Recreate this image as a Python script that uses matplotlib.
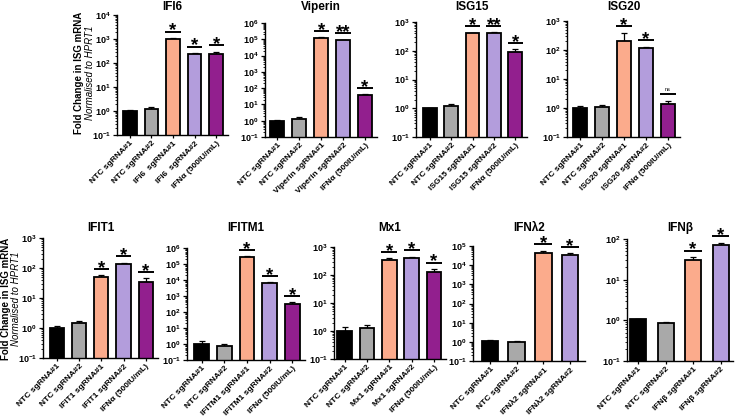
import matplotlib
matplotlib.use('Agg')
import matplotlib.pyplot as plt
import matplotlib.transforms as mtransforms
from matplotlib.ticker import LogLocator, FixedLocator, FixedFormatter, NullFormatter

plt.rcParams['font.family'] = ['Liberation Sans', 'DejaVu Sans']
plt.rcParams['mathtext.fontset'] = 'custom'
plt.rcParams['mathtext.rm'] = 'Liberation Sans:bold'
plt.rcParams['mathtext.bf'] = 'Liberation Sans:bold'

W, H = 740, 418

# ---- data (mean, top of error bar, significance) ----
genes = ['IFI6', 'Viperin', 'ISG15', 'ISG20', 'IFIT1', 'IFITM1', 'Mx1', 'IFN\u03bb2', 'IFN\u03b2']
guide_names = ['IFI6 ', 'Viperin', 'ISG15', 'ISG20', 'IFIT1', 'IFITM1', 'Mx1', 'IFN\u03bb2', 'IFN\u03b2']

ifi6_mean = [1.0, 1.2, 1000, 230, 230]
ifi6_top  = [1.1, 1.4, 1100, 260, 300]
ifi6_sig  = ['', '', '*', '*', '*']

viperin_mean = [1.0, 1.3, 1.15e5, 8.5e4, 38]
viperin_top  = [1.15, 1.8, 1.3e5, 9.2e4, 42]
viperin_sig  = ['', '', '*', '**', '*']

isg15_mean = [1.0, 1.22, 400, 420, 92]
isg15_top  = [1.02, 1.45, 425, 435, 112]
isg15_sig  = ['', '', '*', '**', '*']

isg20_mean = [1.0, 1.1, 210, 115, 1.4]
isg20_top  = [1.15, 1.22, 400, 130, 1.8]
isg20_sig  = ['', '', '*', '*', 'ns']

ifit1_mean = [1.0, 1.5, 52, 135, 35]
ifit1_top  = [1.15, 1.65, 58, 148, 45]
ifit1_sig  = ['', '', '*', '*', '*']

ifitm1_mean = [1.0, 0.72, 2.6e5, 6500, 300]
ifitm1_top  = [1.6, 1.0, 3.0e5, 7400, 400]
ifitm1_sig  = ['', '', '*', '*', '*']

mx1_mean = [1.0, 1.3, 330, 400, 130]
mx1_top  = [1.4, 1.7, 400, 440, 163]
mx1_sig  = ['', '', '*', '*', '*']

ifnl2_mean = [1.05, 1.0, 45000, 34000]
ifnl2_top  = [1.2, 1.15, 55000, 42000]
ifnl2_sig  = ['', '', '*', '*']

ifnb_mean = [1.05, 0.88, 30, 70]
ifnb_top  = [1.08, 0.92, 36, 80]
ifnb_sig  = ['', '', '*', '*']

means = [ifi6_mean, viperin_mean, isg15_mean, isg20_mean, ifit1_mean, ifitm1_mean, mx1_mean, ifnl2_mean, ifnb_mean]
tops  = [ifi6_top, viperin_top, isg15_top, isg20_top, ifit1_top, ifitm1_top, mx1_top, ifnl2_top, ifnb_top]
sigs  = [ifi6_sig, viperin_sig, isg15_sig, isg20_sig, ifit1_sig, ifitm1_sig, mx1_sig, ifnl2_sig, ifnb_sig]
ymax_exp = [4, 6, 3, 3, 3, 6, 3, 5, 2]

colors = ['#000000', '#a9a9a9', '#fbab8c', '#b39ddc', '#921f8e']

# ---- layout in pixels: left, top, right, bottom, xlim left, xlim right, bar width ----
layout = [
  (117, 15, 228, 135, -0.60, 4.55, 0.64),
  (265, 23, 377, 137, -0.57, 4.55, 0.64),
  (416, 22, 527, 137, -0.65, 4.55, 0.64),
  (567, 21, 680, 137, -0.60, 4.55, 0.64),
  (43, 238, 158, 358, -0.63, 4.55, 0.64),
  (187, 248, 305, 360, -0.64, 4.55, 0.64),
  (334, 247, 446, 359, -0.48, 4.54, 0.66),
  (473, 246, 585, 361, -0.64, 3.56, 0.62),
  (627, 239, 733, 361, -0.40, 3.45, 0.58),
]
title_y = [7, 7, 7, 7, 228, 228, 228, 228, 228]

fig = plt.figure(figsize=(W / 100, H / 100), dpi=100)

for i, gene in enumerate(genes):
  l, t, r, b, xlo, xhi, bw = layout[i]
  ax = fig.add_axes([l / W, 1 - b / H, (r - l) / W, (b - t) / H])
  n = len(means[i])
  xs = list(range(n))
  errs = [tp - m for tp, m in zip(tops[i], means[i])]
  ax.bar(xs, means[i], width=bw, color=colors[:n], edgecolor='black', linewidth=1.3, zorder=2)
  ax.errorbar(xs, means[i], yerr=[[0] * n, errs], fmt='none', ecolor='black', elinewidth=0.9,
              capsize=2.5, capthick=0.9, zorder=1)
  ax.set_yscale('log')
  ax.set_ylim(0.1, 10 ** ymax_exp[i])
  ax.set_xlim(xlo, xhi)
  exps = list(range(-1, ymax_exp[i] + 1))
  ax.yaxis.set_major_locator(FixedLocator([10.0 ** e for e in exps]))
  ax.yaxis.set_major_formatter(FixedFormatter(['$10^{%d}$' % e for e in exps]))
  ax.yaxis.set_minor_locator(LogLocator(base=10, subs=range(2, 10), numticks=20))
  ax.yaxis.set_minor_formatter(NullFormatter())
  ax.tick_params(axis='y', which='major', labelsize=6.5, length=3, width=0.9, pad=1.5)
  ax.tick_params(axis='y', which='minor', length=1.5, width=0.6)
  ax.tick_params(axis='x', length=2.5, width=0.9, pad=1)
  for s in ['top', 'right']:
    ax.spines[s].set_visible(False)
  for s in ['left', 'bottom']:
    ax.spines[s].set_linewidth(1.0)

  g = guide_names[i]
  labels = ['NTC sgRNA#1', 'NTC sgRNA#2', g + ' sgRNA#1', g + ' sgRNA#2']
  if n == 5:
    labels.append('IFN\u03b1 (500IU/mL)')
  ax.set_xticks(xs)
  ax.set_xticklabels(labels, rotation=45, ha='right', rotation_mode='anchor', fontsize=6, fontweight='bold')

  # significance bars and stars
  for x, tp, mark in zip(xs, tops[i], sigs[i]):
    if not mark:
      continue
    line_tr = mtransforms.offset_copy(ax.transData, fig=fig, y=6.5, units='dots')
    ax.plot([x - bw * 0.55, x + bw * 0.55], [tp, tp], color='black', lw=1.4, transform=line_tr,
            clip_on=False, solid_capstyle='butt')
    if mark == 'ns':
      txt_tr = mtransforms.offset_copy(ax.transData, fig=fig, y=8.5, units='dots')
      ax.text(x, tp, 'ns', transform=txt_tr, ha='center', va='bottom', fontsize=4)
    else:
      txt_tr = mtransforms.offset_copy(ax.transData, fig=fig, y=2.5, units='dots')
      ax.text(x, tp, mark, transform=txt_tr, ha='center', va='baseline', fontsize=13.5, fontweight='bold')

  fig.text((l + r) / 2 / W, 1 - title_y[i] / H, gene, ha='center', va='center', fontsize=8.5,
           fontweight='bold')

# y-axis labels for the two rows
for bx, ix, cy in [(79, 90, 73), (6, 16, 299)]:
  fig.text(bx / W, 1 - cy / H, 'Fold Change in ISG mRNA', rotation=90, ha='center', va='center',
           fontsize=7, fontweight='bold')
  fig.text(ix / W, 1 - cy / H, 'Normalised to HPRT1', rotation=90, ha='center', va='center',
           fontsize=7, style='italic')

fig.savefig('out.png', dpi=100)
